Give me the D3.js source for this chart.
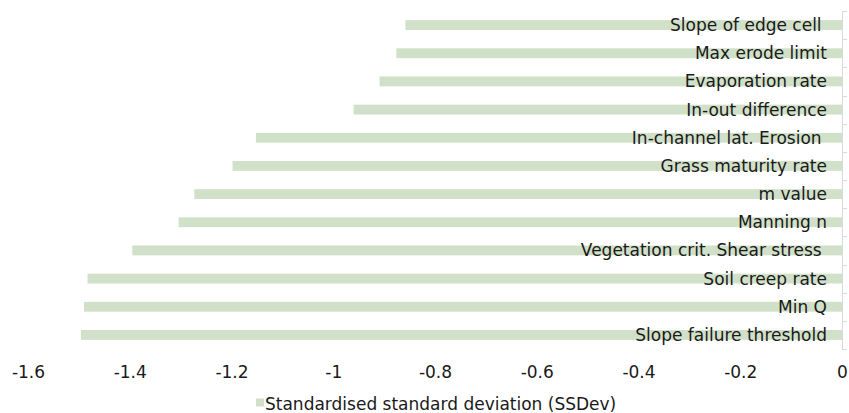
<!DOCTYPE html>
<html><head><meta charset="utf-8">
<script src="https://cdn.jsdelivr.net/npm/d3@7"></script>
<style>
html,body{margin:0;padding:0;background:#fff;}
text{font-family:"DejaVu Sans",Verdana,sans-serif;fill:#1a1a1a;}
</style></head>
<body><svg id="c" width="849" height="413"></svg>
<script>
const categories = ["Slope of edge cell ","Max erode limit","Evaporation rate","In-out difference","In-channel lat. Erosion ","Grass maturity rate","m value","Manning n","Vegetation crit. Shear stress ","Soil creep rate","Min Q","Slope failure threshold"];
const values = [-0.858,-0.876,-0.909,-0.960,-1.152,-1.198,-1.273,-1.304,-1.395,-1.483,-1.490,-1.496];
const xTicks = [-1.6,-1.4,-1.2,-1,-0.8,-0.6,-0.4,-0.2,0];
const seriesName = "Standardised standard deviation (SSDev)";

const svg = d3.select("#c");
const x = d3.scaleLinear().domain([-1.6,0]).range([28,842]);
const y = d3.scaleBand().domain(categories).range([11,349]).paddingInner(0.65).paddingOuter(0.325);
const yb = d3.scaleBand().domain(categories).range([11,349]);
const color = "#d1e0c8";
const fs = 17;

svg.append("g").selectAll("rect").data(categories).join("rect")
  .attr("x", (d,i)=>x(values[i])).attr("y", d=>y(d))
  .attr("width", (d,i)=>x(0)-x(values[i])).attr("height", y.bandwidth())
  .attr("fill", color);

// vertical category axis at zero
const ax = svg.append("g");
ax.append("line").attr("x1",x(0)+0.5).attr("x2",x(0)+0.5).attr("y1",11).attr("y2",349).attr("stroke","#d9d9d9");
const bounds = categories.map(d=>yb(d)).concat([349]);
ax.selectAll("line.t").data(bounds).join("line").attr("class","t")
  .attr("x1",x(0)).attr("x2",x(0)+5).attr("y1",d=>Math.round(d)+0.5).attr("y2",d=>Math.round(d)+0.5).attr("stroke","#d9d9d9");

// labels
svg.append("g").selectAll("text").data(categories).join("text")
  .attr("x", 827).attr("y", d=>yb(d)+yb.bandwidth()/2+6)
  .attr("text-anchor","end").attr("font-size",fs).style("white-space","pre")
  .text(d=>d);

// x axis labels
const xa = d3.axisBottom(x).tickValues(xTicks).tickSize(0).tickFormat(d=>String(d));
const g = svg.append("g").attr("transform","translate(0,362)").call(xa);
g.select(".domain").remove();
g.selectAll("text").attr("font-size",fs).attr("dy",null).attr("y",16).style("font-family",'"DejaVu Sans",Verdana,sans-serif').attr("fill","#1a1a1a");

// legend
svg.append("rect").attr("x",256).attr("y",398.5).attr("width",8).attr("height",8).attr("fill",color);
svg.append("text").attr("x",265).attr("y",410).attr("font-size",fs).text(seriesName);
</script></body></html>
